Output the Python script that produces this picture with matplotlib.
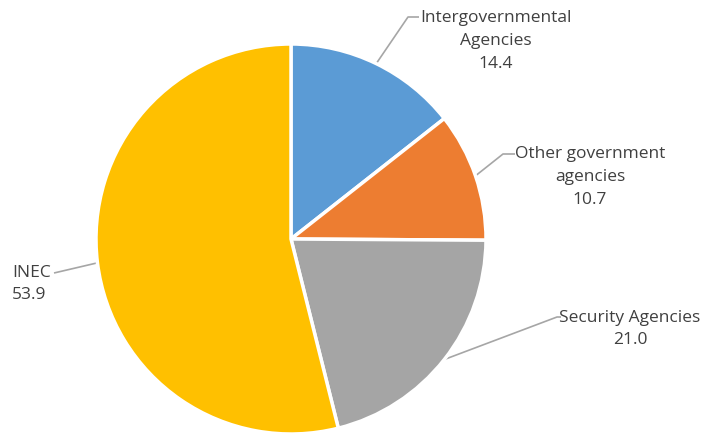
import numpy as np
import matplotlib
matplotlib.use("Agg")
import matplotlib.pyplot as plt

labels = ["Intergovernmental\nAgencies", "Other government\nagencies",
          "Security Agencies", "INEC"]
values = [14.4, 10.7, 21.0, 53.9]
colors = ["#5B9BD5", "#ED7D31", "#A5A5A5", "#FFC000"]

W, H = 702, 439
fig = plt.figure(figsize=(W / 100, H / 100), dpi=100)
ax = fig.add_axes([0, 0, 1, 1])

cx, cy, r = 291, 199, 195
wedges, _ = ax.pie(values, colors=colors, startangle=90, counterclock=False,
                   center=(cx, cy), radius=r,
                   wedgeprops=dict(edgecolor="white", linewidth=2.5))
ax.set_xlim(0, W)
ax.set_ylim(0, H)
ax.set_aspect("equal")
ax.axis("off")

# label placement (pixel coords, y up): elbow, line end, text anchor, alignment
layout = [
    ((408, 421), (419, 421), (496, 398), "center"),
    ((503, 284), (515, 284), (590, 262), "center"),
    ((557, 121), (561, 121), (630, 110), "center"),
    ((54, 165), (54, 165), (12, 155), "left"),
]

font = dict(family=["Open Sans", "DejaVu Sans"], fontsize=12.5, color="#404040")
line_col = "#A6A6A6"

for w, lab, val, (elbow, end, txt, ha) in zip(wedges, labels, values, layout):
    mid = np.deg2rad((w.theta1 + w.theta2) / 2)
    ex, ey = cx + r * np.cos(mid), cy + r * np.sin(mid)
    ax.plot([ex, elbow[0], end[0]], [ey, elbow[1], end[1]],
            color=line_col, linewidth=1.2, solid_capstyle="butt", zorder=0)
    ax.text(txt[0], txt[1], f"{lab}\n{val:.1f}", ha=ha, va="center",
            multialignment=ha, linespacing=1.55, **font)

fig.savefig("out.png", dpi=100)
